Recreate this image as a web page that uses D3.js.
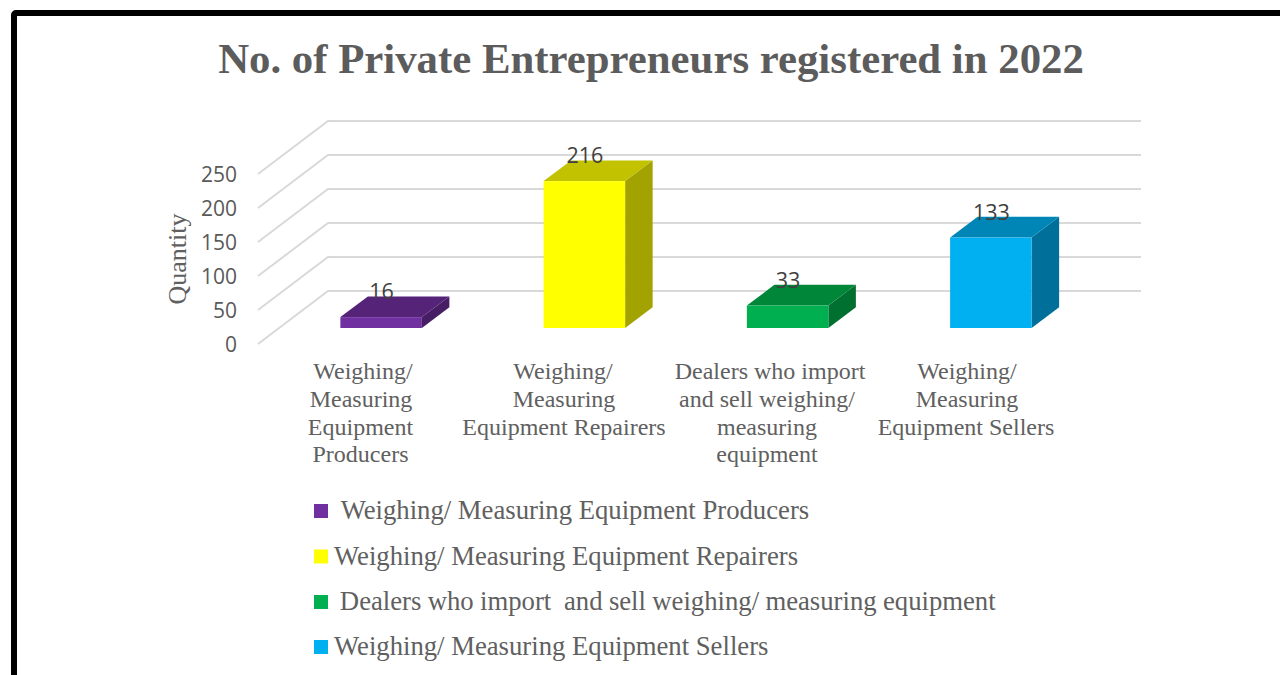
<!DOCTYPE html>
<html><head><meta charset="utf-8">
<script src="https://cdnjs.cloudflare.com/ajax/libs/d3/7.8.5/d3.min.js"></script>
<style>html,body{margin:0;padding:0;background:#fff;overflow:hidden}svg{display:block}</style>
</head><body><svg id="c" width="1280" height="675"></svg>
<script>
const categories = ["Weighing/ Measuring Equipment Producers","Weighing/ Measuring Equipment Repairers","Dealers who import and sell weighing/ measuring equipment","Weighing/ Measuring Equipment Sellers"];
const values = [16,216,33,133];
const categoryLines = [["Weighing/","Measuring","Equipment","Producers"],["Weighing/","Measuring","Equipment Repairers"],["Dealers who import","and sell weighing/","measuring","equipment"],["Weighing/","Measuring","Equipment Sellers"]];
const legendLabels = ["\u00a0Weighing/ Measuring Equipment Producers","Weighing/ Measuring Equipment Repairers","\u00a0Dealers who import \u00a0and sell weighing/ measuring equipment","Weighing/ Measuring Equipment Sellers"];
const faceColors = ["#7030a0","#ffff00","#00b050","#00b0f0"];
const topColors = ["#552479","#c2c200","#008638","#0086b6"];
const sideColors = ["#471e65","#a2a200","#007030","#00709a"];
const yTicks = [0,50,100,150,200,250];
const serif = "'Liberation Serif',serif", sans = "'Open Sans',sans-serif";
const textGrey = "#606060";
const svg = d3.select("#c");
svg.append("rect").attr("x",14).attr("y",13).attr("width",1300).attr("height",700).attr("rx",2).attr("fill","#fff").attr("stroke","#000").attr("stroke-width",6);
svg.append("text").attr("x",651).attr("y",73).attr("text-anchor","middle").attr("font-family",serif).attr("font-weight",700).attr("font-size",42.8).attr("fill","#5c5c5c").text("No. of Private Entrepreneurs registered in 2022");
const y = d3.scaleLinear().domain([0,250]).range([344,174]);
const x = d3.scaleBand().domain(categories).range([279.5,1092.5]).paddingInner(0).paddingOuter(0);
const wallDx=70, wallDy=-53;
const grid = svg.append("g").attr("fill","none").attr("stroke","#d9d9d9").attr("stroke-width",2);
yTicks.forEach(t=>{
  grid.append("path").attr("d",d3.line()([[258,y(t)],[258+wallDx,y(t)+wallDy],[1141,y(t)+wallDy]]));
  svg.append("text").attr("x",237).attr("y",y(t)+8).attr("text-anchor","end").attr("font-family",sans).attr("font-size",21).attr("fill","#595959").text(t);
});
svg.append("text").attr("transform","translate(186,259) rotate(-90)").attr("text-anchor","middle").attr("font-family",serif).attr("font-size",26).attr("fill",textGrey).text("Quantity");
const barW=81.5, baseOff=16, dx=27.5, dy=-20.7;
const h = v=>y(0)-y(v);
const bars = svg.append("g").selectAll("g").data(categories).join("g");
bars.each(function(c,i){
  const g=d3.select(this), cx=x(c)+x.bandwidth()/2, l=cx-barW/2, r=cx+barW/2, b=y(0)-baseOff, t=b-h(values[i]);
  const poly=pts=>d3.line()(pts)+"Z";
  g.append("path").attr("fill",sideColors[i]).attr("d",poly([[r,b],[r+dx,b+dy],[r+dx,t+dy],[r,t]]));
  g.append("path").attr("fill",topColors[i]).attr("d",poly([[l,t],[l+dx,t+dy],[r+dx,t+dy],[r,t]]));
  g.append("rect").attr("x",l).attr("y",t).attr("width",barW).attr("height",b-t).attr("fill",faceColors[i]);
  svg.append("text").attr("x",cx+0.5).attr("y",t-18).attr("text-anchor","middle").attr("font-family",sans).attr("font-size",21.5).attr("fill","#404040").text(values[i]);
});
const catCenters=[[363,361,360.5,360.5],[563,564,564],[770,767,767,767],[967,967,966]];
categoryLines.forEach((ls,i)=>ls.forEach((s,j)=>{
  svg.append("text").attr("x",catCenters[i][j]).attr("y",379+j*27.8).attr("text-anchor","middle").attr("font-family",serif).attr("font-size",24).attr("fill",textGrey).text(s);
}));
const legY=[511,556.5,602,647];
legendLabels.forEach((s,i)=>{
  svg.append("rect").attr("x",314).attr("y",legY[i]-7).attr("width",14).attr("height",14).attr("fill",faceColors[i]);
  svg.append("text").attr("x",i===2?333.5:334).attr("y",legY[i]+8).attr("word-spacing",i===2?-0.3:0).attr("xml:space","preserve").attr("font-family",serif).attr("font-size",26.7).attr("fill",textGrey).text(s);
});
</script></body></html>
